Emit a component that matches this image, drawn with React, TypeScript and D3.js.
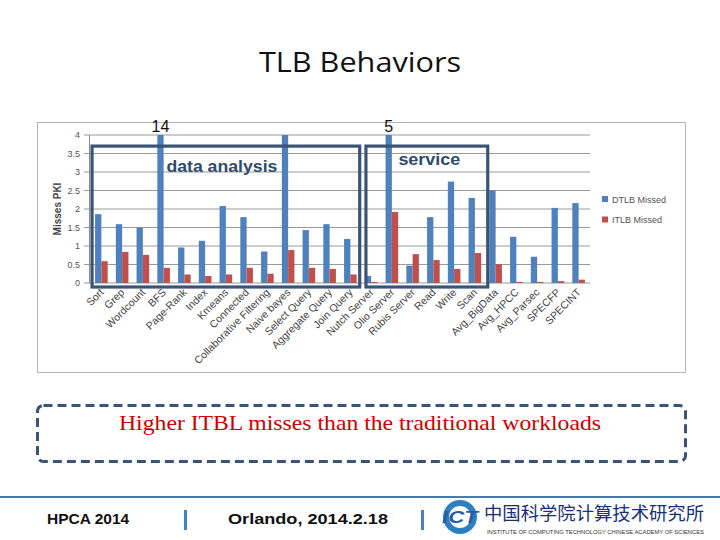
import * as d3 from 'd3'

const categories = [
  'Sort', 'Grep', 'Wordcount', 'BFS', 'Page-Rank', 'Index', 'Kmeans', 'Connected',
  'Collaborative Filtering', 'Naive bayes', 'Select Query', 'Aggregate Query', 'Join Query',
  'Nutch Server', 'Olio Server', 'Rubis Server', 'Read', 'Write', 'Scan',
  'Avg_BigData', 'Avg_HPCC', 'Avg_Parsec', 'SPECFP', 'SPECINT',
]
const dtlbMissed = [
  1.86, 1.59, 1.5, 14, 0.96, 1.14, 2.08, 1.78, 0.85, 4.5, 1.43, 1.59, 1.19,
  0.19, 5, 0.47, 1.78, 2.74, 2.3, 2.5, 1.25, 0.71, 2.03, 2.16,
]
const itlbMissed = [
  0.59, 0.84, 0.76, 0.41, 0.23, 0.19, 0.23, 0.41, 0.25, 0.89, 0.41, 0.38, 0.23,
  0.03, 1.92, 0.78, 0.62, 0.38, 0.81, 0.51, 0.03, 0.03, 0.05, 0.09,
]
const yTicks = [0, 0.5, 1, 1.5, 2, 2.5, 3, 3.5, 4]
const seriesNames = ['DTLB Missed', 'ITLB Missed']
const colors = ['#4f81bd', '#c0504d']

// workload groups outlined on the chart (offsets are in band units)
const groups = [
  { label: 'data analysis', from: 'Sort', to: 'Join Query', padL: 0.05, padR: -0.05, labelAt: 'Kmeans', dy: 172, len: 111 },
  { label: 'service', from: 'Nutch Server', to: 'Scan', padL: 0.25, padR: 0.12, labelAt: 'Read', dy: 165, len: 62 },
]
// values too large for the axis get written above the bar
const overflowLabels = [
  { cat: 'BFS', text: '14' },
  { cat: 'Olio Server', text: '5' },
]

const W = 720
const H = 540
const boxColor = '#3a5478'

export default function App() {
  const x = d3.scaleBand().domain(categories).range([91, 589])
  const y = d3.scaleLinear().domain([0, 4]).range([283, 135]).clamp(true)
  const bw = 6.3
  const cx = (c: string) => x(c)! + x.bandwidth() / 2

  return (
    <svg width={W} height={H} style={{ position: 'absolute', left: 0, top: 0, background: '#fff' }}
      fontFamily="'Liberation Sans', Arial, sans-serif">
      <text x={360} y={72} textAnchor="middle" fontSize={27} fontFamily="'Open Sans', sans-serif"
        textLength={202} lengthAdjust="spacingAndGlyphs" fill="#111">TLB Behaviors</text>

      {/* chart frame */}
      <rect x={37.5} y={122.5} width={648} height={250} fill="none" stroke="#b5b5b5" />

      {/* grid + y axis */}
      {yTicks.map((t) => (
        <g key={t}>
          <line x1={84} x2={590} y1={y(t)} y2={y(t)} stroke="#9a9a9a" strokeWidth={1} />
          <text x={80} y={y(t) + 3} textAnchor="end" fontSize={9} fill="#555">{t}</text>
        </g>
      ))}
      <line x1={89.5} x2={89.5} y1={y(4)} y2={y(0)} stroke="#8a8a8a" />
      <text transform={`translate(61,${209}) rotate(-90)`} textAnchor="middle" fontSize={10}
        fontWeight="bold" fill="#444">Misses PKI</text>

      {/* bars */}
      {categories.map((c, i) => (
        <g key={c}>
          <rect x={cx(c) - bw} width={bw} y={y(dtlbMissed[i])} height={y(0) - y(dtlbMissed[i])} fill={colors[0]} />
          <rect x={cx(c)} width={bw} y={y(itlbMissed[i])} height={y(0) - y(itlbMissed[i])} fill={colors[1]} />
          <text transform={`translate(${cx(c) + 3},${293}) rotate(-45)`} textAnchor="end" fontSize={10.5}
            fill="#444">{c}</text>
        </g>
      ))}

      {overflowLabels.map((o) => (
        <text key={o.cat} x={cx(o.cat) - bw / 2} y={y(4) - 3} textAnchor="middle" fontSize={16} fill="#111">
          {o.text}
        </text>
      ))}

      {/* group boxes */}
      {groups.map((g) => {
        const x0 = x(g.from)! + g.padL * x.bandwidth()
        const x1 = x(g.to)! + x.bandwidth() * (1 + g.padR)
        const y0 = y(3.7)
        const y1 = y(0) + 4
        return (
          <g key={g.label}>
            <rect x={x0} y={y0} width={x1 - x0} height={y1 - y0} fill="none" stroke={boxColor} strokeWidth={3.2} />
            <text x={cx(g.labelAt) - 4} y={g.dy} textAnchor="middle" fontSize={17}
              fontWeight="bold" fill="#2f4a6e" textLength={g.len} lengthAdjust="spacingAndGlyphs">{g.label}</text>
          </g>
        )
      })}

      {/* legend */}
      {seriesNames.map((s, i) => (
        <g key={s} transform={`translate(602,${196 + i * 20.5})`}>
          <rect x={0} y={0} width={6} height={6} fill={colors[i]} />
          <text x={10} y={6.5} fontSize={9} fill="#555">{s}</text>
        </g>
      ))}

      {/* callout */}
      <rect x={37.5} y={405.5} width={648} height={56} rx={6} fill="none" stroke={boxColor}
        strokeWidth={3} strokeDasharray="9 5" />
      <text x={360} y={430} textAnchor="middle" fontSize={21} fill="#cc0000"
        fontFamily="'Liberation Serif', 'Times New Roman', serif" textLength={482}
        lengthAdjust="spacingAndGlyphs">Higher ITBL misses than the traditional workloads</text>

      {/* footer */}
      <line x1={0} x2={720} y1={497} y2={497} stroke="#4a7aa8" strokeWidth={2} />
      <text x={47} y={524} fontSize={15.5} fontWeight="bold" fill="#111">HPCA  2014</text>
      <rect x={184} y={510} width={3} height={20} fill="#3d85c6" />
      <text x={228} y={524} fontSize={15.5} fontWeight="bold" fill="#111" textLength={160}
        lengthAdjust="spacingAndGlyphs">Orlando, 2014.2.18</text>
      <rect x={421} y={510} width={3} height={20} fill="#3d85c6" />
      <circle cx={460} cy={517} r={17} fill="#2b7fc3" />
      <circle cx={460} cy={517} r={11} fill="#fff" />
      <text x={460} y={523} textAnchor="middle" fontSize={17} fontWeight="bold" fontStyle="italic"
        fill="#1f5fa8" textLength={36} lengthAdjust="spacingAndGlyphs">ICT</text>
      <text x={484} y={520} fontSize={18} fill="#1a2f7a" fontFamily="'Noto Sans CJK SC', sans-serif"
        textLength={220} lengthAdjust="spacingAndGlyphs">中国科学院计算技术研究所</text>
      <text x={487} y={534} fontSize={5} fill="#333" textLength={217} lengthAdjust="spacingAndGlyphs">
        INSTITUTE OF COMPUTING TECHNOLOGY CHINESE ACADEMY OF SCIENCES
      </text>
    </svg>
  )
}
